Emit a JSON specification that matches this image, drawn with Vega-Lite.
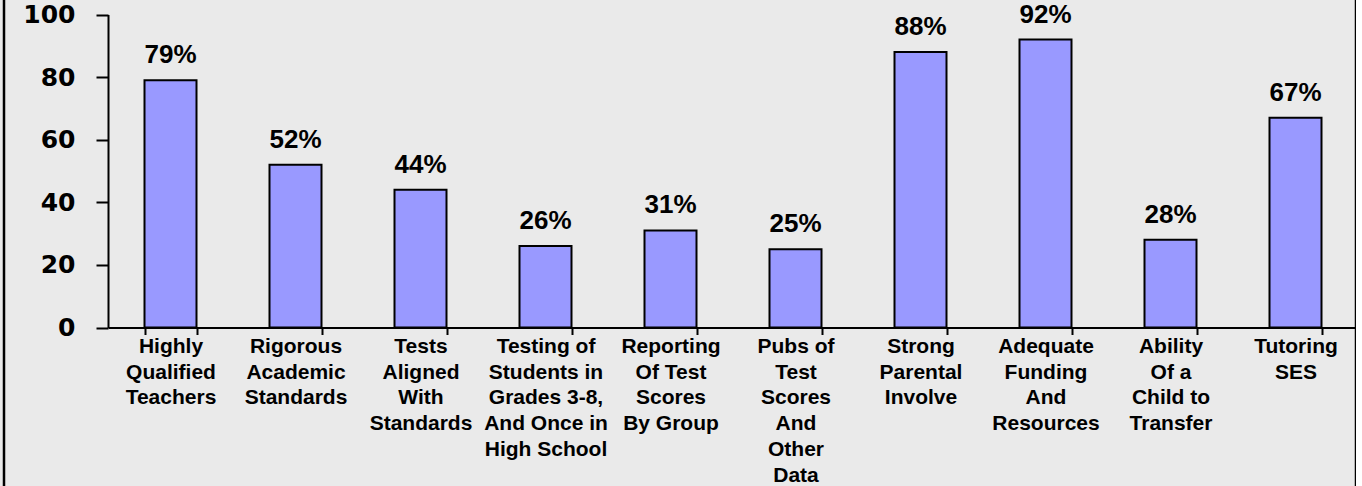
{
  "$schema": "https://vega.github.io/schema/vega-lite/v6.json",
  "autosize": {"type": "none"},
  "padding": {"left": 4, "top": -20, "right": 0, "bottom": 0},
  "width": 1352,
  "height": 520,
  "background": "#eaeaea",
  "config": {"view": {"stroke": "black", "strokeWidth": 2.5, "fill": "#eaeaea"}},
  "data": {
    "values": [
      {"cat": "Highly|Qualified|Teachers", "value": 79},
      {"cat": "Rigorous|Academic|Standards", "value": 52},
      {"cat": "Tests|Aligned|With|Standards", "value": 44},
      {"cat": "Testing of|Students in|Grades 3-8,|And Once in|High School", "value": 26},
      {"cat": "Reporting|Of Test|Scores|By Group", "value": 31},
      {"cat": "Pubs of|Test|Scores|And|Other|Data", "value": 25},
      {"cat": "Strong|Parental|Involve", "value": 88},
      {"cat": "Adequate|Funding|And|Resources", "value": 92},
      {"cat": "Ability|Of a|Child to|Transfer", "value": 28},
      {"cat": "Tutoring|SES", "value": 67}
    ]
  },
  "encoding": {
    "x": {
      "field": "cat",
      "type": "nominal",
      "sort": null,
      "scale": {"range": [104, 1354], "paddingInner": 0.584, "paddingOuter": 0.292},
      "axis": {
        "title": null,
        "orient": "bottom",
        "offset": -172.5,
        "labelAngle": 0,
        "labelExpr": "split(datum.label, '|')",
        "labelFont": "Liberation Sans",
        "labelFontWeight": "bold",
        "labelFontSize": 21,
        "labelLineHeight": 25.7,
        "labelColor": "black",
        "labelPadding": 1,
        "labelBaseline": "top",
        "labelLimit": 0,
        "tickBand": "extent",
        "tickSize": 7,
        "tickColor": "black",
        "tickWidth": 2,
        "domainColor": "black",
        "domainWidth": 2
      }
    },
    "y": {
      "field": "value",
      "type": "quantitative",
      "scale": {"domain": [0, 100], "range": [347.5, 34.5], "nice": false},
      "axis": {
        "title": null,
        "orient": "left",
        "offset": -104,
        "values": [0, 20, 40, 60, 80, 100],
        "grid": false,
        "labelFont": "DejaVu Sans",
        "labelFontWeight": "bold",
        "labelFontSize": 25,
        "labelColor": "black",
        "labelPadding": 21,
        "tickSize": 12,
        "tickColor": "black",
        "tickWidth": 2,
        "domainColor": "black",
        "domainWidth": 2
      }
    }
  },
  "layer": [
    {"mark": {"type": "bar", "fill": "#9999ff", "stroke": "black", "strokeWidth": 2}},
    {
      "mark": {
        "type": "text",
        "text": {"expr": "datum.value + '%'"},
        "baseline": "alphabetic",
        "dy": -17,
        "font": "Liberation Sans",
        "fontWeight": "bold",
        "fontSize": 26,
        "color": "black"
      }
    }
  ]
}
